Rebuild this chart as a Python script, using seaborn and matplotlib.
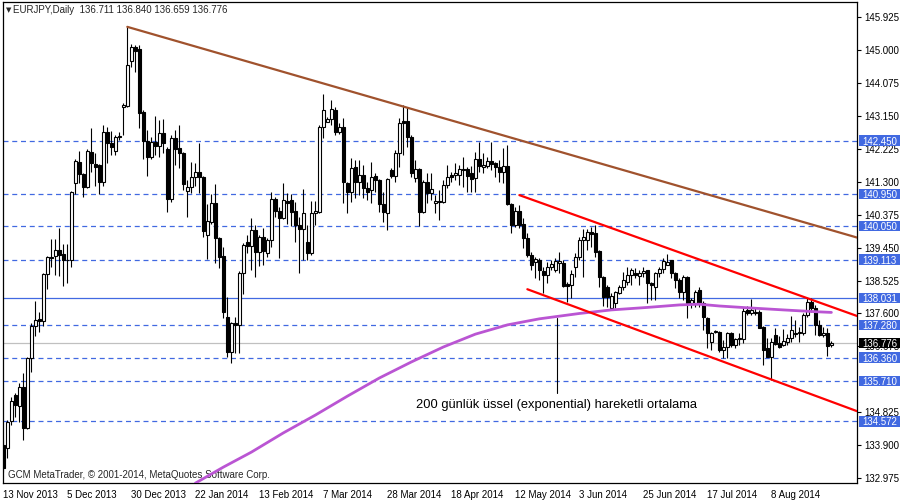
import matplotlib
matplotlib.use("Agg")
import matplotlib.pyplot as plt
import matplotlib.transforms as mtransforms
from matplotlib.patches import Rectangle
import seaborn as sns
import numpy as np

# ---------------- data ----------------
opens = [133.91,133.83,134.58,135.30,135.01,135.55,134.40,136.35,137.25,137.45,
         137.39,138.71,139.18,139.21,139.38,139.27,139.10,139.10,141.26,141.85,
         141.51,141.15,142.13,141.79,141.76,141.29,142.69,142.38,142.16,142.55,
         143.39,143.42,144.69,145.07,145.02,143.25,142.45,142.00,142.41,142.31,
         142.66,142.21,140.81,142.52,142.24,142.11,141.04,141.16,141.43,141.57,
         141.43,139.80,140.17,140.70,139.72,139.21,137.50,136.53,137.34,137.28,
         138.74,139.61,139.50,139.94,139.33,139.75,139.30,139.66,140.81,140.47,
         140.28,140.75,140.78,140.47,140.08,139.96,139.61,139.31,140.43,140.45,
         142.83,142.98,143.06,143.31,142.69,142.83,141.26,141.02,141.72,141.30,
         141.48,141.12,141.06,141.46,141.34,140.67,140.43,141.62,141.46,142.10,
         143.00,143.00,142.56,141.41,141.65,140.45,141.29,140.98,140.69,140.76,
         140.74,141.20,141.48,141.48,141.48,141.65,141.65,141.54,141.40,141.93,
         141.72,141.74,141.89,141.82,141.72,141.58,141.74,140.67,140.08,140.48,
         140.11,139.72,139.24,139.04,139.10,138.79,138.68,138.90,138.82,139.02,
         139.02,138.43,138.40,138.90,139.18,139.66,139.66,139.89,139.86,139.36,
         138.62,138.35,137.75,137.89,138.18,138.35,138.49,138.68,138.74,138.65,
         138.74,138.82,138.46,138.35,138.74,138.85,138.96,139.10,138.74,138.54,
         138.21,138.62,137.89,137.89,138.26,137.89,137.47,136.81,137.07,137.09,
         136.58,136.67,137.06,136.72,136.88,136.88,137.70,137.61,137.65,137.65,
         137.23,136.63,136.39,137.00,136.77,136.72,136.81,136.91,137.02,137.04,
         137.04,137.56,137.93,137.75,137.28,137.00,137.04,136.711]
highs = [134.05,134.61,135.27,135.37,135.66,135.93,136.39,137.33,137.95,137.64,
         138.74,139.21,139.69,139.69,140.00,139.55,139.55,141.04,141.93,142.16,
         141.54,142.21,142.80,142.10,141.79,142.89,142.83,142.72,142.61,142.69,
         143.50,145.64,145.16,145.13,145.13,143.31,142.75,142.56,143.14,143.03,
         143.06,142.28,142.61,142.75,142.89,142.14,141.34,141.86,141.82,142.39,
         141.46,140.67,140.95,141.23,139.75,139.47,138.07,137.36,137.51,138.79,
         139.58,139.80,140.28,140.08,139.80,140.00,139.72,141.01,140.88,140.60,
         141.26,140.98,140.95,140.74,140.31,141.09,140.08,140.75,140.75,142.89,
         143.76,143.12,143.59,143.40,142.94,143.08,141.30,141.96,141.91,141.91,
         141.76,141.30,141.86,141.54,141.37,141.02,141.40,141.68,142.19,143.08,
         143.45,143.40,142.61,141.91,141.68,141.34,141.54,141.54,140.92,141.06,
         141.34,141.76,141.58,141.82,141.76,142.00,141.72,141.74,142.14,142.42,
         142.10,142.00,142.42,141.86,141.91,142.24,142.33,140.70,140.60,140.64,
         140.28,139.86,139.33,139.19,139.16,138.91,139.05,139.10,139.16,139.33,
         139.10,138.49,138.82,139.31,139.75,139.97,139.97,140.03,140.08,139.38,
         138.65,138.40,138.17,138.24,138.40,138.77,138.91,138.88,138.88,138.82,
         138.90,138.83,138.49,138.77,138.91,139.16,139.27,139.11,138.77,138.60,
         138.68,138.65,138.03,138.26,138.35,137.95,137.51,137.09,137.14,137.11,
         136.86,137.08,137.09,136.91,137.05,137.79,137.81,138.01,137.79,137.70,
         137.25,136.91,136.91,137.19,136.97,137.17,137.02,137.53,137.42,137.23,
         137.61,138.03,138.03,137.84,137.42,137.23,137.19,136.840]
lows = [133.15,133.55,134.47,134.70,134.56,134.05,134.37,135.97,136.97,137.09,
        137.25,138.29,138.91,138.68,138.65,138.38,138.46,138.91,140.95,141.26,
        140.87,141.12,141.57,141.18,140.95,141.18,141.82,142.05,142.05,142.47,
        142.61,143.39,144.52,144.38,142.81,141.93,141.46,141.93,142.05,142.00,
        142.10,140.45,140.74,141.76,141.68,141.06,140.31,140.98,141.18,140.99,
        139.75,139.13,140.11,139.02,138.88,137.47,136.38,136.21,136.50,136.49,
        138.15,139.30,138.82,138.63,138.94,138.96,139.19,139.47,140.31,139.16,
        140.25,140.11,140.05,139.61,138.74,139.10,139.10,139.24,140.08,140.42,
        142.52,142.97,142.89,142.61,142.63,140.70,140.42,140.74,140.84,140.92,
        140.84,140.78,140.70,141.02,140.45,140.17,139.94,141.40,141.29,141.72,
        142.05,142.28,141.44,141.30,140.06,140.42,140.70,140.78,140.42,140.22,
        140.70,141.12,141.30,141.34,141.20,141.16,141.02,141.02,141.02,141.58,
        141.54,141.68,141.62,141.44,141.30,141.26,140.64,139.86,140.03,140.00,
        139.44,139.19,138.82,138.60,138.54,138.17,138.46,138.82,138.77,138.74,
        138.35,137.93,138.03,138.63,139.10,138.63,139.38,139.47,139.19,138.35,
        137.81,137.78,137.70,137.75,138.15,138.26,138.40,138.40,138.60,138.40,
        138.62,137.90,137.98,137.98,138.63,138.74,138.95,138.60,138.32,138.03,
        137.98,137.47,137.75,137.79,137.79,137.14,136.63,136.58,137.05,136.53,
        136.35,136.35,136.67,136.63,136.72,136.77,137.56,137.56,137.56,137.19,
        136.15,136.38,135.73,136.72,136.63,136.69,136.72,136.81,136.95,136.81,
        137.00,137.51,137.65,137.00,136.97,136.95,136.41,136.659]
closes = [133.27,134.56,135.15,135.02,135.55,134.40,136.35,137.25,137.42,137.39,
          138.71,139.18,139.17,139.38,139.24,139.10,139.11,141.01,141.88,141.51,
          141.15,142.16,141.82,141.71,141.29,142.69,142.38,142.27,142.55,142.58,
          143.45,144.57,145.07,144.97,143.23,142.45,142.00,142.41,142.31,142.66,
          142.38,140.81,142.52,142.21,142.10,141.23,141.15,141.43,141.57,141.43,
          139.92,140.19,140.70,139.72,139.19,137.65,136.53,137.34,137.28,138.74,
          139.52,139.50,139.94,139.33,139.75,139.36,139.66,140.81,140.47,140.28,
          140.78,140.71,140.46,140.08,139.96,140.42,139.31,140.42,140.47,142.83,
          143.31,143.06,143.34,142.70,142.84,141.29,141.01,141.69,141.30,141.48,
          141.12,141.02,141.44,141.34,140.67,140.45,141.37,141.46,142.10,142.94,
          142.95,142.56,141.54,141.65,140.45,141.30,140.98,141.09,140.76,140.74,
          141.20,141.43,141.44,141.55,141.65,141.62,141.46,141.37,141.93,141.74,
          141.76,141.89,141.79,141.72,141.58,141.74,140.67,140.08,140.48,140.08,
          139.72,139.24,138.96,139.13,138.82,138.68,138.91,138.99,139.07,139.07,
          138.38,138.38,138.71,139.19,139.66,139.75,139.89,139.83,139.33,138.62,
          138.06,138.06,138.09,138.21,138.35,138.54,138.68,138.82,138.68,138.74,
          138.80,138.46,138.40,138.74,138.85,139.08,139.05,138.74,138.54,138.21,
          138.62,137.89,137.98,138.21,137.93,137.49,137.05,137.06,137.12,136.58,
          136.67,137.06,136.72,136.88,136.91,137.68,137.61,137.70,137.61,137.20,
          136.58,136.39,136.81,136.74,136.67,136.83,136.92,137.14,137.06,137.09,
          137.56,137.93,137.75,137.28,137.00,137.04,136.69,136.776]

# 200-day exponential moving average, read at sampled bars
ma_bars = [48, 55, 62, 70, 78, 86, 94, 102, 110, 118, 126, 134, 144, 152, 161, 169, 174, 179, 186, 195, 203, 207]
ma_vals = [132.84, 133.29, 133.71, 134.25, 134.75, 135.28, 135.79, 136.24, 136.66, 137.02, 137.28, 137.45,
           137.60, 137.70, 137.77, 137.84, 137.86, 137.81, 137.76, 137.70, 137.65, 137.63]

# trend lines (bar index, price)
brown_bars = [31, 213.4]
brown_prices = [145.64, 139.73]
red_up_bars = [129, 213.4]
red_up_prices = [140.92, 137.53]
red_dn_bars = [131, 213.4]
red_dn_prices = [138.28, 134.86]

dashed_levels = [142.450, 140.950, 140.050, 139.113, 137.280, 136.360, 135.710, 134.572]
solid_level = 138.031
last_price = 136.776

# 135.750 is fully hidden behind the 135.710 label in the reference
price_ticks = [145.925, 145.000, 144.075, 143.150, 142.225, 141.300, 140.375, 139.450,
               138.525, 137.600, 136.675, 134.825, 133.900, 132.975]
date_tick_bars = [0, 16, 32, 48, 64, 80, 96, 112, 128, 144, 160, 176, 192]
date_labels = ["13 Nov 2013", "5 Dec 2013", "30 Dec 2013", "22 Jan 2014", "13 Feb 2014",
               "7 Mar 2014", "28 Mar 2014", "18 Apr 2014", "12 May 2014", "3 Jun 2014",
               "25 Jun 2014", "17 Jul 2014", "8 Aug 2014"]

header = "EURJPY,Daily  136.711 136.840 136.659 136.776"
footer = "GCM MetaTrader, \u00a9 2001-2014, MetaQuotes Software Corp."
annotation = "200 g\u00fcnl\u00fck \u00fcssel (exponential) hareketli ortalama"

# ---------------- style ----------------
sns.set_style("white")
plt.rcParams['font.family'] = ['Liberation Sans', 'DejaVu Sans']

BLUE = '#4169E1'
fig = plt.figure(figsize=(9, 5), dpi=100)
ax = fig.add_axes([2.5 / 900, 17 / 500, (857 - 2.5) / 900, 481 / 500])
ax.set_facecolor('white')

n = len(closes)
idx = np.arange(n)
o = np.array(opens); h = np.array(highs); l = np.array(lows); c = np.array(closes)

# horizontal levels
for lv in dashed_levels:
    ax.axhline(lv, color=BLUE, lw=0.9, ls=(0, (4, 3)), zorder=1)
ax.axhline(solid_level, color=BLUE, lw=0.9, zorder=1)
ax.axhline(last_price, color='#C0C0C0', lw=0.9, zorder=1)

# candles
ax.vlines(idx, l, h, color='black', lw=0.8, zorder=2)
up = c >= o
bottoms = np.minimum(o, c)
heights = np.abs(c - o)
ax.bar(idx[up], heights[up], bottom=bottoms[up], width=0.72, facecolor='white',
       edgecolor='black', linewidth=0.8, zorder=3)
ax.bar(idx[~up], heights[~up], bottom=bottoms[~up], width=0.72, facecolor='black',
       edgecolor='black', linewidth=0.8, zorder=3)

# moving average and trend lines
sns.lineplot(x=ma_bars, y=ma_vals, ax=ax, color='#BA55D3', lw=2.0, estimator=None,
             sort=False, zorder=4)
sns.lineplot(x=brown_bars, y=brown_prices, ax=ax, color='#A0522D', lw=1.6, estimator=None, zorder=4)
sns.lineplot(x=red_up_bars, y=red_up_prices, ax=ax, color='#FF0000', lw=1.6, estimator=None, zorder=4)
sns.lineplot(x=red_dn_bars, y=red_dn_prices, ax=ax, color='#FF0000', lw=1.6, estimator=None, zorder=4)

# annotation pointer
ax.plot([138.4, 138.4], [137.47, 135.37], color='black', lw=0.8, zorder=4)
ax.text(138.4, 135.03, annotation, ha='center', va='center', fontsize=9.3, color='black', zorder=5)

ax.set_xlim(-0.2, 213.4)
ax.set_ylim(132.845, 146.337)

# axes
for sp in ax.spines.values():
    sp.set_color('black')
    sp.set_linewidth(0.9)
ax.yaxis.tick_right()
ax.set_yticks(price_ticks)
ax.set_yticklabels([f"{t:.3f}" for t in price_ticks])
ax.set_xticks(date_tick_bars)
ax.set_xticklabels(date_labels, ha='left')
ax.tick_params(axis='y', length=3, width=0.8, pad=2, labelsize=7, colors='black', direction='out')
ax.tick_params(axis='x', length=3, width=0.8, pad=2, labelsize=7, colors='black', direction='out')
ax.set_xlabel(''); ax.set_ylabel('')
ax.grid(False)

# right-side level labels: a filled box from the axis to the figure edge, text on top
trans = mtransforms.blended_transform_factory(ax.transAxes, ax.transData)
ppx = (ax.get_ylim()[1] - ax.get_ylim()[0]) / 481.0      # price per pixel
bx0 = (859 - 2.5) / 854.5
bw = 41 / 854.5
bh = 10.5 * ppx
xl = (862 - 2.5) / 854.5
labels = [(lv, BLUE) for lv in dashed_levels + [solid_level]] + [(last_price, 'black')]
for lv, col in labels:
    ax.add_patch(Rectangle((bx0, lv - bh / 2), bw, bh, transform=trans, facecolor=col,
                           edgecolor='none', clip_on=False, zorder=9))
    ax.text(xl, lv, f"{lv:.3f}", transform=trans, ha='left', va='center_baseline', fontsize=7,
            color='white', clip_on=False, zorder=10)

# header and footer
ax.text((6 - 2.5) / 854.5, 1 - (10 - 2) / 481, "\u25bc", transform=ax.transAxes, fontsize=5,
        ha='left', va='center', family=['DejaVu Sans'])
ax.text((13 - 2.5) / 854.5, 1 - (10 - 2) / 481, header, transform=ax.transAxes, fontsize=7,
        ha='left', va='center')
ax.text((8 - 2.5) / 854.5, (483 - 475) / 481, footer, transform=ax.transAxes, fontsize=7,
        ha='left', va='center')

fig.savefig('out.png', dpi=100)
